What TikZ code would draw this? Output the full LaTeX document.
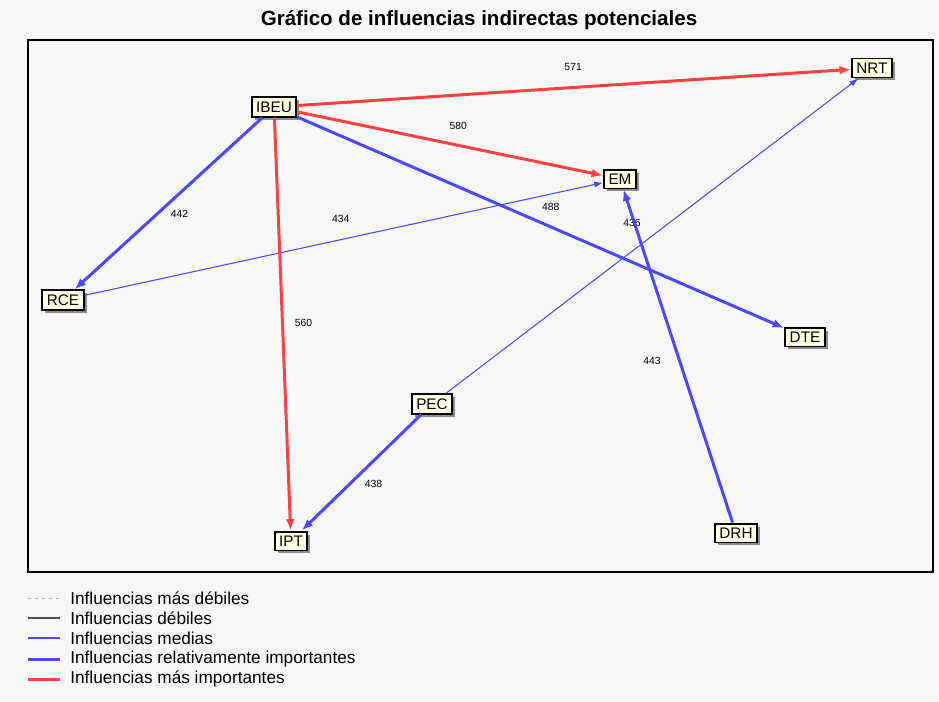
\documentclass[tikz,border=0pt]{standalone}
\usepackage{fontspec}
\setmainfont{Liberation Sans}
\usepackage{tikz}
\usetikzlibrary{shapes,arrows.meta,shadows}
\definecolor{bgray}{HTML}{F7F7F7}
\definecolor{bcream}{HTML}{FFFFE4}
\definecolor{bred}{HTML}{FF4040}
\definecolor{bblue}{HTML}{4848FF}
\tikzstyle{var} = [rectangle, draw, line width=1.1pt, fill=bcream, inner xsep=2.6pt, inner ysep=2.4pt, font=\fontsize{8.7}{10}\selectfont, drop shadow={shadow xshift=0.06cm, shadow yshift=-0.06cm, fill=black!55, opacity=0.8}]
\tikzstyle{top} = [draw=bred, line width=1.7pt, -{Latex[length=6.5pt, width=5pt]}]
\tikzstyle{rel} = [draw=bblue, line width=1.7pt, -{Latex[length=6.5pt, width=5pt]}]
\tikzstyle{med} = [draw=bblue, line width=0.6pt, -{Latex[length=5pt, width=3.5pt]}]
\tikzstyle{lbl} = [font=\fontsize{5.9}{7}\selectfont, inner sep=0pt]
\tikzstyle{leg} = [anchor=west, font=\fontsize{9.8}{11}\selectfont, inner sep=0pt]

\begin{document}
\begin{tikzpicture}[x=0.02cm, y=-0.02cm]
      \fill [bgray] (0,0) rectangle (939,701);
      \useasboundingbox (0,0) rectangle (939,701);
      \node [font=\bfseries\fontsize{11.7}{13}\selectfont] (title) at (479,20) {Gráfico de influencias indirectas potenciales};
      \draw [line width=0.9pt] (28,40) rectangle (933,572);

      \node [var] (ibeu) at (274,107) {IBEU};
      \node [var] (nrt) at (872,68) {NRT};
      \node [var] (em) at (620,179) {EM};
      \node [var] (rce) at (63,300) {RCE};
      \node [var] (dte) at (805,337) {DTE};
      \node [var] (pec) at (432,404) {PEC};
      \node [var] (ipt) at (291,541) {IPT};
      \node [var] (drh) at (736,533) {DRH};

      \path [med] (rce) -- node [lbl, shift={(-3,-20)}] {434} (em);
      \path [med] (pec) -- node [lbl, shift={(-20,-13)}] {436} (nrt);
      \path [rel] (ibeu) -- node [lbl, shift={(11,10)}] {442} (rce);
      \path [rel] (ibeu) -- node [lbl, shift={(10,-16)}] {488} (dte);
      \path [rel] (drh) -- node [lbl, shift={(-26,5)}] {443} (em);
      \path [rel] (pec) -- node [lbl, shift={(12,11)}] {438} (ipt);
      \path [top] (ibeu) -- node [lbl, shift={(-1,-20)}] {571} (nrt);
      \path [top] (ibeu) -- node [lbl, shift={(8,-18)}] {580} (em);
      \path [top] (ibeu) -- node [lbl, shift={(21,-1)}] {560} (ipt);

      % legend
      \draw [gray!60, line width=0.5pt, dash pattern=on 1.5pt off 2.5pt] (28,598) -- (60,598);
      \draw [black!70, line width=0.6pt] (28,618) -- (60,618);
      \draw [bblue, line width=0.6pt] (28,638) -- (60,638);
      \draw [bblue, line width=1.7pt] (28,659) -- (60,659);
      \draw [bred, line width=1.7pt] (28,679) -- (60,679);
      \node [leg] (l1) at (70,598) {Influencias más débiles};
      \node [leg] (l2) at (70,618) {Influencias débiles};
      \node [leg] (l3) at (70,638) {Influencias medias};
      \node [leg] (l4) at (70,659) {Influencias relativamente importantes};
      \node [leg] (l5) at (70,679) {Influencias más importantes};
    \end{tikzpicture}
\end{document}
